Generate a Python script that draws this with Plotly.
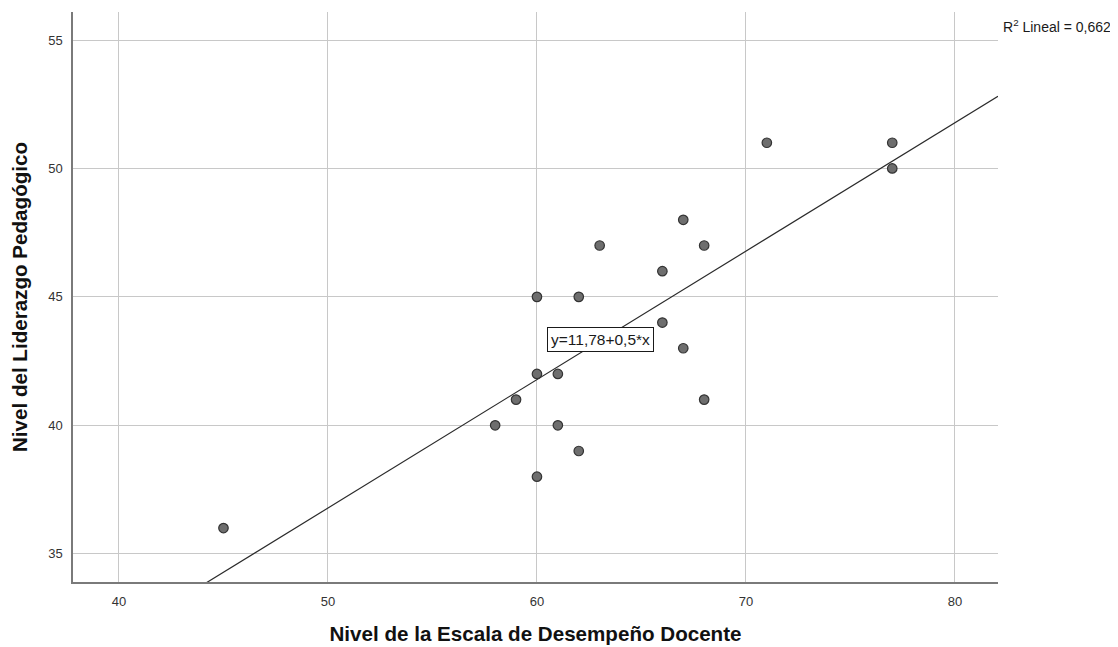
import plotly.graph_objects as go

x_vals = [45, 58, 59, 60, 60, 60, 61, 61, 62, 62, 63, 66, 66, 67, 67, 68, 68, 71, 77, 77]
y_vals = [36, 40, 41, 45, 42, 38, 42, 40, 45, 39, 47, 46, 44, 48, 43, 47, 41, 51, 51, 50]
intercept = 11.78
slope = 0.5
r2_label = "R<sup>2</sup> Lineal = 0,662"
eq_label = "y=11,78+0,5*x"
x_range = [37.8, 82.06]
y_range = [33.9, 56.09]

FONT = "Liberation Sans, Arial, sans-serif"

fig = go.Figure()
line_x = x_range
line_y = [intercept + slope * v for v in line_x]
fig.add_trace(go.Scatter(x=line_x, y=line_y, mode="lines",
                         line=dict(color="#2b2b2b", width=1.2), hoverinfo="skip"))
fig.add_trace(go.Scatter(x=x_vals, y=y_vals, mode="markers",
                         marker=dict(size=9.5, color="#6e6e6e",
                                     line=dict(color="#333333", width=1.2))))

fig.add_annotation(x=63.06, y=43.33, text=eq_label, showarrow=False,
                   font=dict(family=FONT, size=15.5, color="#1a1a1a"),
                   bgcolor="white", bordercolor="#1a1a1a", borderwidth=1, borderpad=3)
fig.add_annotation(xref="paper", yref="paper", x=1.003, y=0.975, xanchor="left", yanchor="middle",
                   text=r2_label, showarrow=False,
                   font=dict(family=FONT, size=14, color="#1a1a1a"))

fig.update_layout(
    width=1118, height=647,
    margin=dict(l=65, r=128, t=4, b=73),
    paper_bgcolor="white", plot_bgcolor="white",
    showlegend=False,
    font=dict(family=FONT, color="#333333"),
)
fig.update_xaxes(range=x_range, tickvals=[40, 50, 60, 70, 80], ticks="", automargin=False,
                 showgrid=True, gridcolor="#c8c8c8", gridwidth=1.3,
                 showline=True, linecolor="#7a7a7a", linewidth=1.5, zeroline=False,
                 tickfont=dict(family=FONT, size=13, color="#333333"),
                 ticklabelstandoff=7,
                 title=dict(text="Nivel de la Escala de Desempeño Docente",
                            font=dict(family=FONT, size=20.6, color="#111111", weight="bold"),
                            standoff=18))
fig.update_yaxes(range=y_range, tickvals=[35, 40, 45, 50, 55], ticks="", automargin=False,
                 showgrid=True, gridcolor="#c8c8c8", gridwidth=1.3,
                 showline=True, linecolor="#7a7a7a", linewidth=1.5, zeroline=False,
                 tickfont=dict(family=FONT, size=13, color="#333333"),
                 ticklabelstandoff=6,
                 title=dict(text="Nivel del Liderazgo Pedagógico",
                            font=dict(family=FONT, size=20.6, color="#111111", weight="bold"),
                            standoff=15))

fig.write_html("out.html")
